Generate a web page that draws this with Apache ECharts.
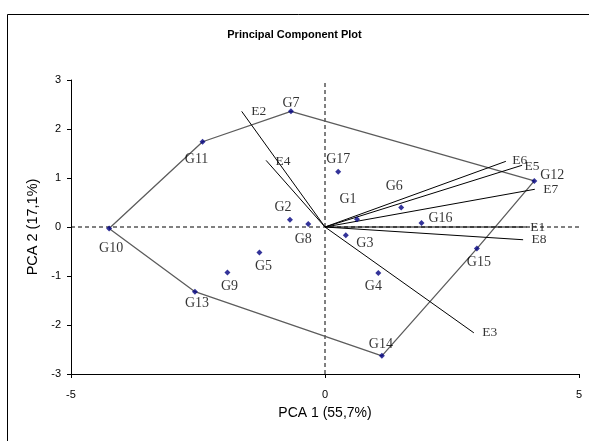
<!DOCTYPE html>
<html>
<head>
<meta charset="utf-8">
<script src="https://cdn.jsdelivr.net/npm/echarts@6/dist/echarts.min.js"></script>
<style>
  html, body { margin: 0; padding: 0; background: #fff; }
  #chart { width: 589px; height: 441px; }
</style>
</head>
<body>
<div id="chart"></div>
<script>
// Genotype scores (PCA 1, PCA 2)
const genotypes = ['G1','G2','G3','G4','G5','G6','G7','G8','G9','G10','G11','G12','G13','G14','G15','G16','G17'];
const genotypePC1 = [0.63, -0.69, 0.41, 1.05, -1.29, 1.50, -0.67, -0.33, -1.92, -4.25, -2.41, 4.12, -2.56, 1.12, 2.99, 1.90, 0.26];
const genotypePC2 = [0.16, 0.15, -0.17, -0.94, -0.52, 0.40, 2.36, 0.06, -0.93, -0.03, 1.74, 0.94, -1.32, -2.63, -0.44, 0.08, 1.13];

// Environment vectors (PCA 1, PCA 2)
const environments = ['E1','E2','E3','E4','E5','E6','E7','E8'];
const envPC1 = [3.97, -1.64, 2.93, -1.16, 3.88, 3.56, 4.13, 3.90];
const envPC2 = [0.00, 2.36, -2.16, 1.36, 1.26, 1.34, 0.77, -0.26];

// Polygon joining the outermost genotypes
const hullOrder = ['G10','G11','G7','G12','G15','G14','G13','G10'];

// Axis ticks
const xTicks = [-5, 0, 5];
const yTicks = [-3, -2, -1, 0, 1, 2, 3];

// Label placement (pixel offsets from the mark)
const genotypeLabelOffset = {
  G1: [-9, -20], G2: [-7, -12], G3: [19, 8], G4: [-5, 13], G5: [4, 14],
  G6: [-7, -21], G7: [0, -8], G8: [-5, 15], G9: [2, 14], G10: [2, 20],
  G11: [-6, 18], G12: [18, -6], G13: [2, 12], G14: [-1, -12], G15: [2, 14],
  G16: [19, -5], G17: [0, -12]
};
const envLabelOffset = {
  E1: [11, 0], E2: [17, 0], E3: [16, 0], E4: [17, 1],
  E5: [10, 1], E6: [14, -1], E7: [16, 0], E8: [16, 0]
};

const serif = '"Liberation Serif", "DejaVu Serif", serif';
const sans = '"Liberation Sans", Arial, sans-serif';

const chart = echarts.init(document.getElementById('chart'), null, { renderer: 'canvas' });

const series = [];

// zero reference lines
series.push({
  type: 'line', data: [[0, yTicks[0]], [0, yTicks[yTicks.length - 1]]],
  showSymbol: false, silent: true, z: 1,
  lineStyle: { color: '#000', width: 1, type: [4, 3] }
});
series.push({
  type: 'line', data: [[xTicks[0], 0], [xTicks[xTicks.length - 1], 0]],
  showSymbol: false, silent: true, z: 1,
  lineStyle: { color: '#000', width: 1, type: [4, 3] }
});

// outer polygon
series.push({
  type: 'line',
  data: hullOrder.map(n => {
    const i = genotypes.indexOf(n);
    return [genotypePC1[i], genotypePC2[i]];
  }),
  showSymbol: false, silent: true, z: 2,
  lineStyle: { color: '#5c5c5c', width: 1.3 }
});

// environment vectors
environments.forEach((name, i) => {
  series.push({
    type: 'line', data: [[0, 0], [envPC1[i], envPC2[i]]],
    showSymbol: false, silent: true, z: 3,
    lineStyle: { color: '#000', width: 1 }
  });
});
series.push({
  type: 'scatter', z: 4, symbolSize: 1,
  itemStyle: { color: 'rgba(0,0,0,0)' },
  data: environments.map((name, i) => ({
    value: [envPC1[i], envPC2[i]], name: name,
    label: { offset: envLabelOffset[name] }
  })),
  label: {
    show: true, position: 'inside', formatter: p => p.name,
    color: '#000', fontFamily: serif, fontSize: 13.5, align: 'center', verticalAlign: 'middle'
  }
});

// genotype points
series.push({
  type: 'scatter', z: 5, symbol: 'diamond', symbolSize: 6,
  itemStyle: { color: '#000080' },
  data: genotypes.map((name, i) => ({
    value: [genotypePC1[i], genotypePC2[i]], name: name,
    label: { offset: genotypeLabelOffset[name] }
  })),
  label: {
    show: true, position: 'inside', formatter: p => p.name,
    color: '#000', fontFamily: serif, fontSize: 14, align: 'center', verticalAlign: 'middle'
  }
});

chart.setOption({
  animation: false,
  backgroundColor: '#fff',
  title: {
    text: 'Principal Component Plot', left: 'center', top: 24,
    textStyle: { fontFamily: sans, fontSize: 11, fontWeight: 'bold', color: '#000' }
  },
  graphic: [{
    type: 'rect', silent: true, z: -1,
    shape: { x: 7.5, y: 14.5, width: 620, height: 470 },
    style: { fill: 'none', stroke: '#000', lineWidth: 1 }
  }],
  grid: { left: 71, right: 10, top: 80, bottom: 67, containLabel: false },
  xAxis: {
    type: 'value', min: xTicks[0], max: xTicks[xTicks.length - 1], interval: 5,
    name: 'PCA 1 (55,7%)', nameLocation: 'middle', nameGap: 32,
    nameTextStyle: { fontFamily: sans, fontSize: 14, color: '#000' },
    axisLine: { show: true, onZero: false, lineStyle: { color: '#000', width: 1 } },
    axisTick: { show: true, inside: false, length: 4, lineStyle: { color: '#000' } },
    axisLabel: { fontFamily: sans, fontSize: 11, color: '#000', margin: 15 },
    splitLine: { show: false }
  },
  yAxis: {
    type: 'value', min: yTicks[0], max: yTicks[yTicks.length - 1], interval: 1,
    name: 'PCA 2 (17,1%)', nameLocation: 'middle', nameGap: 26,
    nameTextStyle: { fontFamily: sans, fontSize: 14.5, color: '#000' },
    axisLine: { show: true, onZero: false, lineStyle: { color: '#000', width: 1 } },
    axisTick: { show: true, inside: false, length: 4, lineStyle: { color: '#000' } },
    axisLabel: { fontFamily: sans, fontSize: 11, color: '#000', margin: 10 },
    splitLine: { show: false }
  },
  series: series
});
</script>
</body>
</html>
